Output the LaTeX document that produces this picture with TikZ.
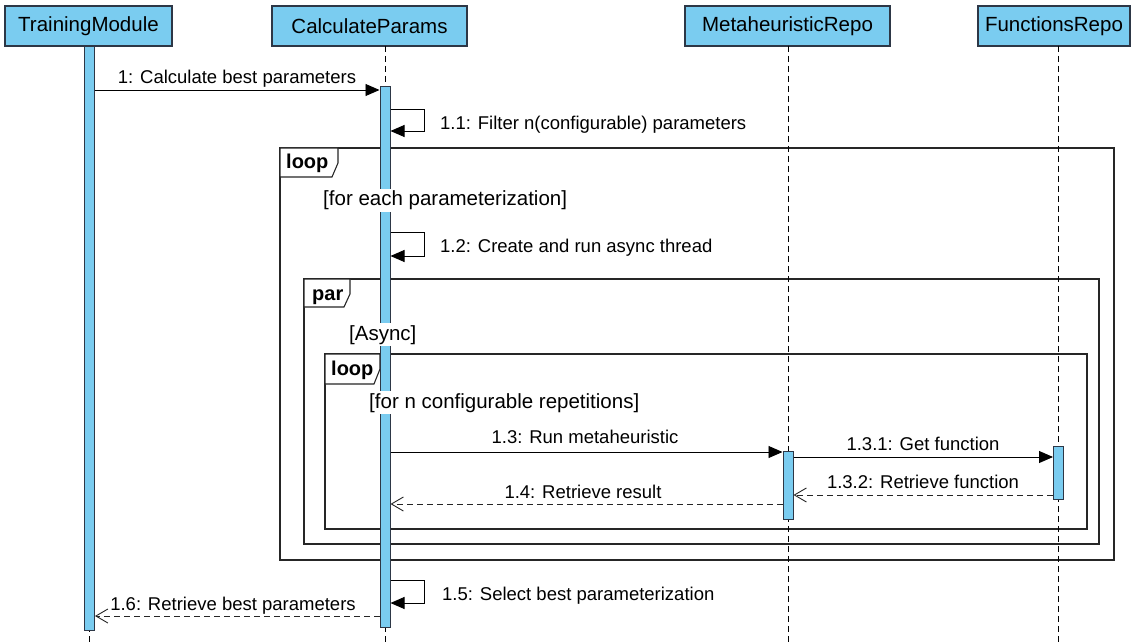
\documentclass[tikz,border=0pt]{standalone}
\usepackage{fontspec}
\setmainfont{Liberation Sans}
\usetikzlibrary{arrows.meta}
\definecolor{lifefill}{RGB}{122,204,240}
\definecolor{lifeedge}{RGB}{45,55,70}

\begin{document}
\begin{tikzpicture}[x=1pt,y=-1pt,
  header/.style={draw=lifeedge, line width=1.3pt, fill=lifefill, inner sep=0pt,
    font=\fontsize{20.5}{24}\selectfont},
  actbar/.style={draw=lifeedge, line width=1pt, fill=lifefill, inner sep=0pt,
    minimum width=10pt, anchor=north},
  lifeline/.style={draw=black, line width=0.8pt, dash pattern=on 6pt off 4pt},
  frame/.style={draw=black!85, line width=1.1pt},
  tab/.style={draw=black!85, line width=1.1pt, fill=white},
  sync/.style={draw=black, line width=0.9pt, -{Triangle[length=14pt,width=12pt]}},
  reply/.style={draw=black!85, line width=0.9pt, dash pattern=on 6pt off 4pt,
    -{Straight Barb[length=12pt,width=14pt,line width=0.9pt]}},
  msg/.style={font=\fontsize{18.5}{22}\selectfont, inner sep=0pt, anchor=base},
  guard/.style={font=\fontsize{20.5}{24}\selectfont, fill=white, inner sep=2pt, anchor=base west},
  kw/.style={font=\bfseries\fontsize{20}{24}\selectfont, inner sep=0pt, anchor=base west},
]
\useasboundingbox (0,0) rectangle (1134,644);

% combined fragments
\draw[frame] (280,148) rectangle (1114,560);
\draw[tab] (280,148) -- (338,148) -- (338,163) -- (332,177) -- (280,177) -- cycle;
\node[kw] (kwloopA) at (286,169) {loop};

\draw[frame] (304,279) rectangle (1099,544);
\draw[tab] (304,279) -- (350,279) -- (350,294) -- (344,307) -- (304,307) -- cycle;
\node[kw] (kwpar) at (312,300) {par};

\draw[frame] (325,354) rectangle (1087,529);
\draw[tab] (325,354) -- (380,354) -- (380,369) -- (374,384) -- (325,384) -- cycle;
\node[kw] (kwloopB) at (331,375) {loop};

% lifeline heads
\node[header, minimum width=167pt, minimum height=40pt] (tmhead) at (88.5,26) {TrainingModule};
\node[header, minimum width=195pt, minimum height=40pt] (cphead) at (369.5,26) {CalculateParams};
\node[header, minimum width=205pt, minimum height=40pt] (mrhead) at (787.5,26) {MetaheuristicRepo};
\node[header, minimum width=152pt, minimum height=40pt] (frhead) at (1054,26) {FunctionsRepo};

% lifelines
\draw[lifeline] (89.5,46) -- (89.5,644);
\draw[lifeline] (385,46) -- (385,644);
\draw[lifeline] (788,46) -- (788,644);
\draw[lifeline] (1058.5,46) -- (1058.5,644);

% activation bars
\node[actbar, minimum height=584pt] (tmbar) at (89.5,46) {};
\node[actbar, minimum height=541pt] (cpbar) at (385,86) {};
\node[actbar, minimum height=68pt] (mrbar) at (788,451) {};
\node[actbar, minimum height=53pt] (frbar) at (1058.5,446) {};

% messages
\draw[sync] (tmbar.east |- 0,90) -- (cpbar.west |- 0,90);
\node[msg] (l1) at (237,84) {1: Calculate best parameters};

\draw[sync] (cpbar.east |- 0,109) -| (424,131) -- (cpbar.east |- 0,131);
\node[msg, anchor=base west] (l11) at (440,130) {1.1: Filter n(configurable) parameters};

\draw[sync] (cpbar.east |- 0,232) -| (424,256) -- (cpbar.east |- 0,256);
\node[msg, anchor=base west] (l12) at (440,252) {1.2: Create and run async thread};

\draw[sync] (cpbar.east |- 0,452) -- (mrbar.west |- 0,452);
\node[msg] (l13) at (585,443) {1.3: Run metaheuristic};

\draw[sync] (mrbar.east |- 0,457) -- (frbar.west |- 0,457);
\node[msg] (l131) at (923,450) {1.3.1: Get function};

\draw[reply] (frbar.west |- 0,495) -- (mrbar.east |- 0,495);
\node[msg] (l132) at (923,488) {1.3.2: Retrieve function};

\draw[reply] (mrbar.west |- 0,504) -- (cpbar.east |- 0,504);
\node[msg] (l14) at (583,498) {1.4: Retrieve result};

\draw[sync] (cpbar.east |- 0,580) -| (424,603) -- (cpbar.east |- 0,603);
\node[msg, anchor=base west] (l15) at (442,600) {1.5: Select best parameterization};

\draw[reply] (cpbar.west |- 0,616) -- (tmbar.east |- 0,616);
\node[msg] (l16) at (233,610) {1.6: Retrieve best parameters};

% guards
\node[guard] (gA) at (321,206) {[for each parameterization]};
\node[guard] (gB) at (347,340) {[Async]};
\node[guard] (gC) at (367,408) {[for n configurable repetitions]};
\end{tikzpicture}
\end{document}
